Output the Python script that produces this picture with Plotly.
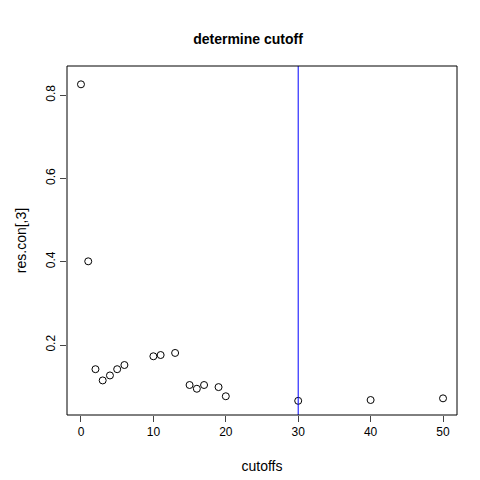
import plotly.graph_objects as go

cutoffs = [0, 1, 2, 3, 4, 5, 6, 10, 11, 13, 15, 16, 17, 19, 20, 30, 40, 50]
res_con3 = [0.826, 0.401, 0.142, 0.115, 0.127, 0.142, 0.152, 0.173, 0.176, 0.181,
            0.104, 0.095, 0.104, 0.099, 0.077, 0.066, 0.068, 0.072]
vline_x = 30

fig = go.Figure()
fig.add_trace(go.Scatter(x=cutoffs, y=res_con3, mode="markers",
                         marker=dict(symbol="circle-open", size=7, color="black", line=dict(width=1))))
fig.add_shape(type="line", x0=vline_x, x1=vline_x, y0=0, y1=1, yref="paper",
              line=dict(color="blue", width=1))
fig.add_shape(type="rect", x0=0, x1=1, y0=0, y1=1, xref="paper", yref="paper",
              line=dict(color="black", width=1))
fig.update_layout(
    width=480, height=480, plot_bgcolor="white", paper_bgcolor="white",
    margin=dict(l=59, r=31, t=58, b=73, autoexpand=False), showlegend=False,
    font=dict(family="Liberation Sans, Arial", size=12, color="black"),
    title=dict(text="<b>determine cutoff</b>", x=0.5, xanchor="center", y=0.935, yanchor="middle",
               font=dict(size=14)),
    xaxis=dict(range=[-1.93, 51.93], tickvals=[0, 10, 20, 30, 40, 50], ticks="outside", ticklen=6,
               showgrid=False, zeroline=False, showline=False, automargin=False,
               title=dict(text="cutoffs", standoff=22)),
    yaxis=dict(range=[0.032, 0.870], tickvals=[0.2, 0.4, 0.6, 0.8], ticks="outside", ticklen=6,
               tickangle=-90, showgrid=False, zeroline=False, showline=False, automargin=False,
               title=dict(text="res.con[,3]", standoff=14)),
)
fig.write_html("out.html")
